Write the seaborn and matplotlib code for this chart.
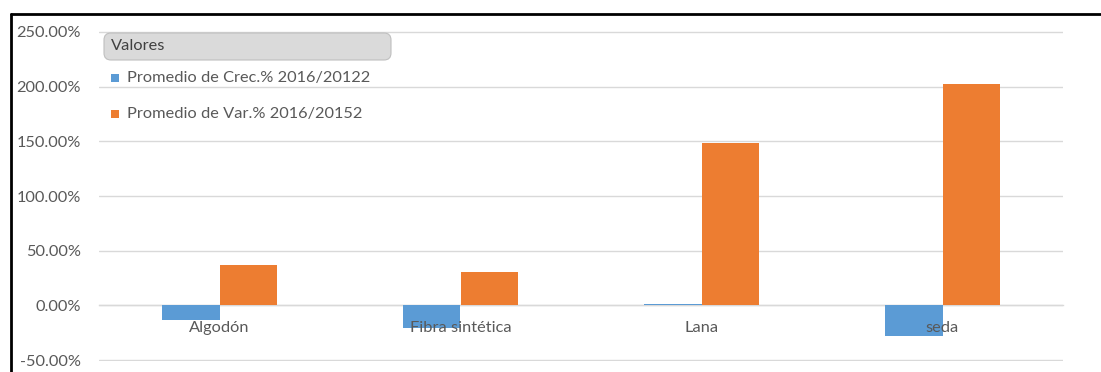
import matplotlib
matplotlib.use("Agg")
import matplotlib.pyplot as plt
from matplotlib.patches import FancyBboxPatch, Rectangle
from matplotlib.lines import Line2D
from matplotlib.ticker import FuncFormatter, MultipleLocator
import pandas as pd
import seaborn as sns

# Average growth / variation per fibre type (in percent)
categories = ["Algodón", "Fibra sintética", "Lana", "seda"]
series_names = ["Promedio de Crec.% 2016/20122", "Promedio de Var.% 2016/20152"]
crec_values = [-13.5, -20.5, 1.4, -28.5]
var_values = [36.9, 30.9, 148.3, 202.2]
colors = ["#5B9BD5", "#ED7D31"]

df = pd.DataFrame({
    "categoria": categories * 2,
    "serie": [series_names[0]] * len(categories) + [series_names[1]] * len(categories),
    "valor": crec_values + var_values,
})

sns.set_theme(style="white")
plt.rcParams["font.family"] = ["Lato", "DejaVu Sans"]

W, H = 1101, 372
fig = plt.figure(figsize=(W / 100, H / 100), dpi=100)
ax = fig.add_axes([99 / W, 1 - 361.1 / H, (1063 - 99) / W, (361.1 - 30.9) / H])

sns.barplot(data=df, x="categoria", y="valor", hue="serie", order=categories,
            hue_order=series_names, palette=colors, saturation=1, width=0.48, gap=0,
            linewidth=0, ax=ax, legend=False)

text_gray = "#595959"
grid_gray = "#D9D9D9"
fs = 11.8

ax.set_ylim(-51, 251)
ax.set_xlim(-0.5, len(categories) - 0.5)
ax.yaxis.set_major_locator(MultipleLocator(50))
ax.yaxis.set_major_formatter(FuncFormatter(lambda v, p: f"{v:.2f}%"))
ax.grid(axis="y", color=grid_gray, linewidth=1.0)
ax.set_axisbelow(True)
# category labels sit on the zero line, above the bars
ax.xaxis.set_zorder(3)
for side in ["top", "right", "left"]:
    ax.spines[side].set_visible(False)
ax.spines["bottom"].set_position(("data", 0))
ax.spines["bottom"].set_color(grid_gray)
ax.spines["bottom"].set_linewidth(1.0)
ax.spines["bottom"].set_zorder(0.6)
ax.tick_params(axis="y", length=0, pad=13, labelsize=fs, labelcolor=text_gray)
ax.tick_params(axis="x", length=0, pad=11, labelsize=fs, labelcolor=text_gray)
ax.set_xlabel("")
ax.set_ylabel("")

# Legend: rounded title box with series entries below
title_box = FancyBboxPatch((104, H - 60), 287, 27, boxstyle="round,pad=0,rounding_size=7",
                           transform=None, facecolor="#DADADA", edgecolor="#BFBFBF",
                           linewidth=0.8, zorder=5)
fig.patches.append(title_box)
fig.text(111 / W, 1 - 46.5 / H, "Valores", fontsize=fs, color="#404040",
         va="center", ha="left", zorder=6)
for name, col, yc in zip(series_names, colors, [78, 114]):
    fig.patches.append(Rectangle((111, H - yc - 4), 8, 8, transform=None,
                                 facecolor=col, edgecolor="none", zorder=6))
    fig.text(127 / W, 1 - yc / H, name, fontsize=fs, color=text_gray,
             va="center", ha="left", zorder=6)

# Black frame around the chart area
fig.add_artist(Line2D([11 / W, 1.0], [1 - 14 / H, 1 - 14 / H], transform=fig.transFigure,
                      color="black", linewidth=2.0))
fig.add_artist(Line2D([11 / W, 11 / W], [0.0, 1 - 14 / H], transform=fig.transFigure,
                      color="black", linewidth=2.0))

fig.savefig("out.png", dpi=100, facecolor="white")
